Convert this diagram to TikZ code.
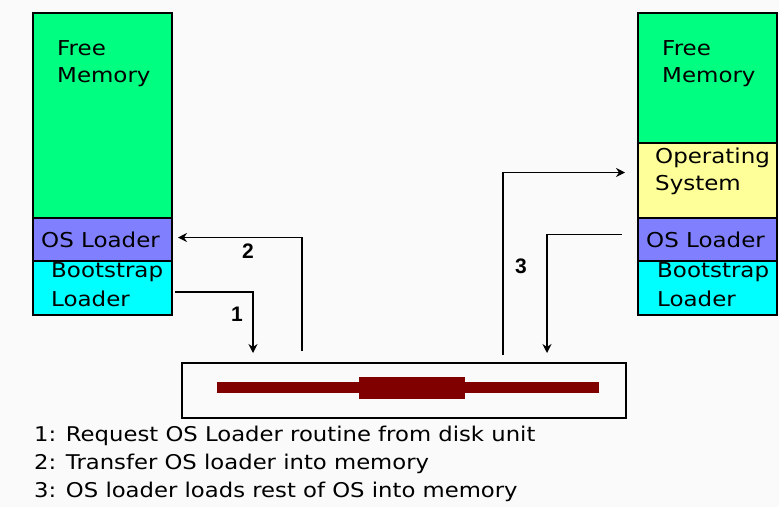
\documentclass[tikz,border=0pt]{standalone}
\usepackage{fontspec}
\setmainfont[FakeStretch=1.12]{DejaVu Sans}
\newfontfamily\numfont{Liberation Sans}
\usetikzlibrary{arrows.meta}
\definecolor{memgreen}{HTML}{00FF80}
\definecolor{mempurple}{HTML}{8080FF}
\definecolor{memcyan}{HTML}{00FFFF}
\definecolor{memyellow}{HTML}{FFFF99}
\definecolor{diskred}{HTML}{800000}
\begin{document}
\begin{tikzpicture}[x=1pt,y=-1pt,
  memblock/.style={draw=black, line width=1.6pt, anchor=north west, inner sep=0pt, outer sep=0pt},
  memtext/.style={anchor=west, inner sep=0pt, font=\fontsize{20.5}{24}\selectfont},
  conn/.style={line width=1.5pt},
  connarrow/.style={conn, -{Stealth[length=9pt,width=9pt]}},
  numlabel/.style={font=\numfont\bfseries\fontsize{21}{24}\selectfont, inner sep=0pt},
  legend/.style={anchor=west, inner sep=0pt, font=\fontsize{20.3}{24}\selectfont}]
\fill[white!98!black] (0,0) rectangle (779,507);
\useasboundingbox (0,0) rectangle (779,507);
% left memory
\node[memblock, fill=memgreen, minimum width=139pt, minimum height=205pt] (lfree) at (33,13) {};
\node[memblock, fill=mempurple, minimum width=139pt, minimum height=43pt] (lload) at (33,218) {};
\node[memblock, fill=memcyan, minimum width=139pt, minimum height=54pt] (lboot) at (33,261) {};
\node[memtext] (lfreet1) at (57,48) {Free};
\node[memtext] (lfreet2) at (57,77) {Memory};
\node[memtext] (lloadt) at (41,240) {OS Loader};
\node[memtext] (lboott1) at (51,272) {Bootstrap};
\node[memtext] (lboott2) at (51,299) {Loader};
% right memory
\node[memblock, fill=memgreen, minimum width=139pt, minimum height=130pt] (rfree) at (638,13) {};
\node[memblock, fill=memyellow, minimum width=139pt, minimum height=75pt] (ros) at (638,143) {};
\node[memblock, fill=mempurple, minimum width=139pt, minimum height=43pt] (rload) at (638,218) {};
\node[memblock, fill=memcyan, minimum width=139pt, minimum height=54pt] (rboot) at (638,261) {};
\node[memtext] (rfreet1) at (662,48) {Free};
\node[memtext] (rfreet2) at (662,77) {Memory};
\node[memtext] (rost1) at (655,158) {Operating};
\node[memtext] (rost2) at (655,185) {System};
\node[memtext] (rloadt) at (646,240) {OS Loader};
\node[memtext] (rboott1) at (657,272) {Bootstrap};
\node[memtext] (rboott2) at (657,299) {Loader};
% disk
\node[draw=black, line width=1.6pt, anchor=north west, inner sep=0pt, minimum width=444pt, minimum height=55pt] (disk) at (181,362) {};
\fill[diskred] (217,382) rectangle (599,393);
\fill[diskred] (359,377) rectangle (465,399);
% connectors
\draw[connarrow] ([xshift=3pt,yshift=-4pt]lboot.east) -| ([xshift=72pt,yshift=9pt]disk.north west);
\draw[connarrow] ([xshift=121pt,yshift=11pt]disk.north west) |- ([xshift=6pt,yshift=2pt]lload.east);
\draw[connarrow] ([xshift=322pt,yshift=7pt]disk.north west) |- ([xshift=-13pt,yshift=8pt]ros.west);
\draw[connarrow] ([xshift=-16pt,yshift=5pt]rload.west) -| ([xshift=366pt,yshift=9pt]disk.north west);
\node[numlabel] (n1) at (237,314) {1};
\node[numlabel] (n2) at (248,251) {2};
\node[numlabel] (n3) at (521,266) {3};
% legend
\node[legend] (leg1) at (34,436) {1: Request OS Loader routine from disk unit};
\node[legend] (leg2) at (34,464) {2: Transfer OS loader into memory};
\node[legend] (leg3) at (34,492) {3: OS loader loads rest of OS into memory};
\end{tikzpicture}
\end{document}
